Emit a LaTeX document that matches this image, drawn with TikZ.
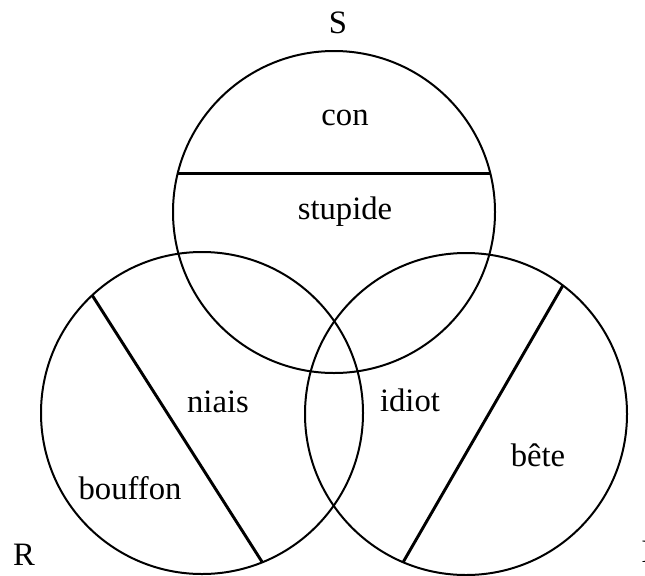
\documentclass[tikz,border=0pt]{standalone}
\usepackage{fontspec}
\setmainfont{Liberation Serif}
\usetikzlibrary{positioning}

\begin{document}
\begin{tikzpicture}[
    x=0.75pt, y=-0.75pt,
    set/.style={circle, draw, line width=1.5pt, minimum size=241.5pt, inner sep=0pt, outer sep=0pt},
    chord/.style={line width=2.2pt},
    word/.style={font=\fontsize{24.5}{28}\selectfont, inner sep=0pt},
]
\useasboundingbox (0,0) rectangle (645,575);
% the three sets
\node[set] (setS) at (334,212) {};
\node[set] (setR) at (202,413) {};
\node[set] (setI) at (466,414) {};

% dividing lines
\draw[chord] (setS.166) -- (setS.14);
\draw[chord] (setR.133) -- (setR.-68);
\draw[chord] (setI.53) -- (setI.-113);

% set labels
\node[word] (lblS) at (338,23) {S};
\node[word] (lblR) at (24,555) {R};
\node[word, anchor=west] (lblI) at (641,552) {I};

% words
\node[word] (con) at (345,118) {con};
\node[word] (stupide) at (345,212) {stupide};
\node[word] (niais) at (218,402) {niais};
\node[word] (bouffon) at (130,488) {bouffon};
\node[word] (idiot) at (410,400) {idiot};
\node[word] (bete) at (538,455) {bête};
\end{tikzpicture}
\end{document}
